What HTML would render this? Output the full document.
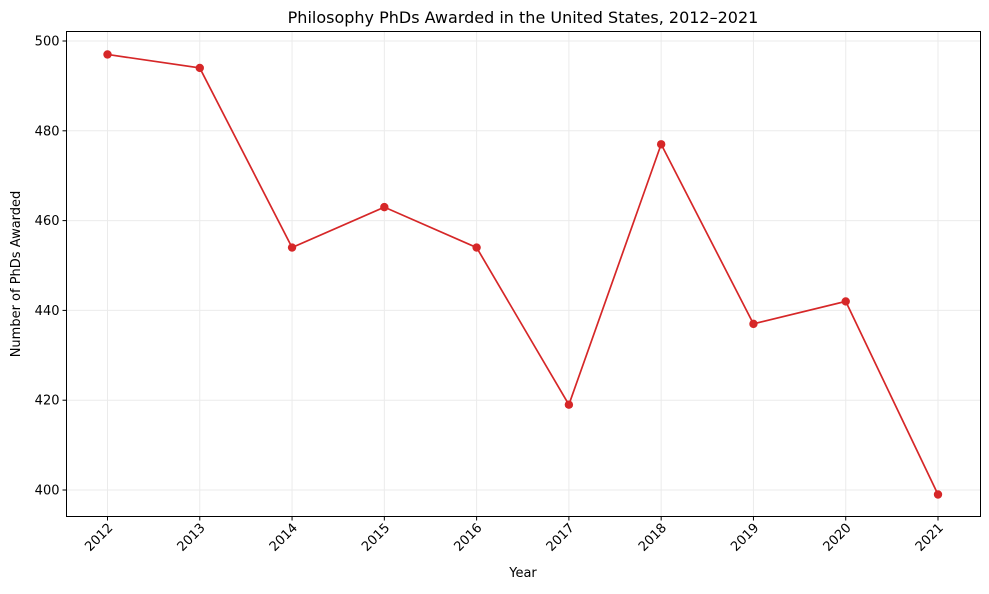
<!DOCTYPE html>
<html><head><meta charset="utf-8"><style>
body{margin:0;background:#fff;font-family:"DejaVu Sans","Liberation Sans",sans-serif}
</style></head><body>
<svg width="989" height="590" viewBox="0 0 989 590" font-family="DejaVu Sans, Liberation Sans, sans-serif">
<text x="523" y="23" text-anchor="middle" font-size="16">Philosophy PhDs Awarded in the United States, 2012–2021</text>
<g id="grid"></g>
<g id="axes"></g>
<g id="series"></g>
<text x="523" y="577" text-anchor="middle" font-size="13">Year</text>
<text transform="translate(20,274) rotate(-90)" text-anchor="middle" font-size="13">Number of PhDs Awarded</text>
</svg>
<script>
const years=[2012,2013,2014,2015,2016,2017,2018,2019,2020,2021];
const phds=[497,494,454,463,454,419,477,437,442,399];
const yTicks=[400,420,440,460,480,500];
const NS="http://www.w3.org/2000/svg";
const L=66.5,R=980.5,T=31.5,B=516.5;
const x=i=>107.5+i*(938-107.5)/9;
const y=v=>490-(v-400)*(449/100);
function mk(tag,attrs,parent,text){const e=document.createElementNS(NS,tag);for(const k in attrs)e.setAttribute(k,attrs[k]);if(text!==undefined)e.textContent=text;document.getElementById(parent).appendChild(e);return e;}
yTicks.forEach(v=>{
 const g=mk('line',{x1:L,x2:R,y1:y(v),y2:y(v),stroke:'#ebebeb','stroke-width':1},'grid');
 
 const t=mk('line',{x1:L-4,x2:L,y1:y(v),y2:y(v),stroke:'#000'},'axes');
 
 const l=mk('text',{x:L-7,y:y(v)+4.5,'text-anchor':'end','font-size':13},'axes',v);
 
});
years.forEach((yr,i)=>{
 const g=mk('line',{x1:x(i),x2:x(i),y1:T,y2:B,stroke:'#ebebeb'},'grid');
 
 const t=mk('line',{x1:x(i),x2:x(i),y1:B,y2:B+4,stroke:'#000'},'axes');
 
 const l=mk('text',{transform:`translate(${x(i)+6},${B+12}) rotate(-45)`,'text-anchor':'end','font-size':13},'axes',yr);
 
});
const fr=mk('rect',{x:L,y:T,width:R-L,height:B-T,fill:'none',stroke:'#000','stroke-width':1},'axes');

const pl=mk('polyline',{points:phds.map((v,i)=>x(i)+','+y(v)).join(' '),fill:'none',stroke:'#d62728','stroke-width':1.7},'series');

phds.forEach((v,i)=>{
 const c=mk('circle',{cx:x(i),cy:y(v),r:4.2,fill:'#d62728'},'series');
 
});
</script>
</body></html>
